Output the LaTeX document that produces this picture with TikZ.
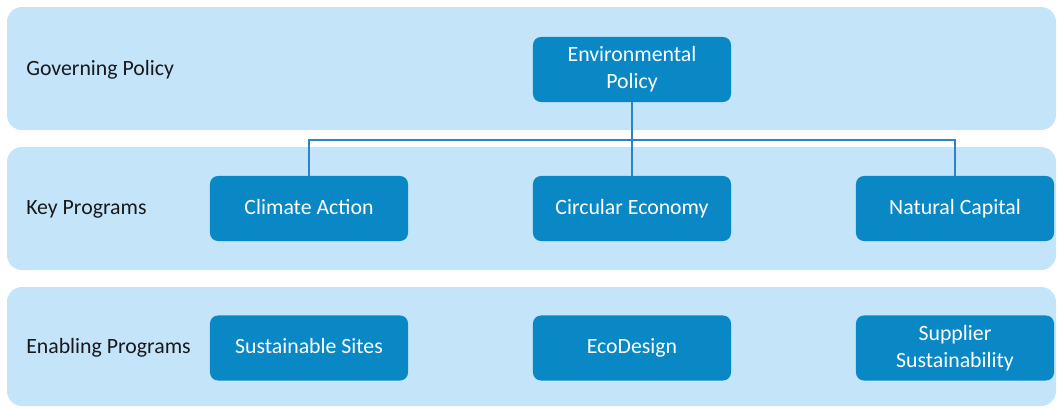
\documentclass[tikz,border=0pt]{standalone}
\usepackage{fontspec}
\setmainfont{Carlito}
\usepackage{tikz}
\usetikzlibrary{positioning}

\definecolor{bandblue}{HTML}{C4E4FA}
\definecolor{boxblue}{HTML}{0A88C6}
\definecolor{linkblue}{HTML}{2A84CC}

\tikzset{
  band/.style={fill=bandblue, rounded corners=0.375cm},
  tier/.style={anchor=west, inner sep=0pt, font=\fontsize{15.5}{18}\selectfont, text=black!90},
  prog/.style={fill=boxblue, rounded corners=0.2cm, text=white,
    minimum width=4.95cm, minimum height=1.625cm, align=center,
    text depth=0.25em, font=\fontsize{15.5}{19}\selectfont},
  link/.style={draw=linkblue, line width=1.1pt}
}

\begin{document}
\begin{tikzpicture}[x=0.025cm, y=-0.025cm]
  \useasboundingbox (0,0) rectangle (1058,408);

  % bands
  \fill[band] (7,7) rectangle (1056,130);
  \fill[band] (7,147) rectangle (1056,270);
  \fill[band] (7,287) rectangle (1056,406);

  \node[tier] (gov) at (26,70) {Governing Policy};
  \node[tier] (key) at (26,209) {Key Programs};
  \node[tier] (enab) at (26,348) {Enabling Programs};

  % programs
  \node[prog] (env) at (632,69.5) {Environmental\\Policy};

  \node[prog] (climate) at (309,208.5) {Climate Action};
  \node[prog] (circular) at (632,208.5) {Circular Economy};
  \node[prog] (natural) at (955,208.5) {Natural Capital};

  \node[prog] (sites) at (309,348) {Sustainable Sites};
  \node[prog] (ecodesign) at (632,348) {EcoDesign};
  \node[prog] (supplier) at (955,348) {Supplier\\Sustainability};

  % connectors
  \coordinate (bus) at (632,140);
  \draw[link] (env.south) -- (circular.north);
  \draw[link] (climate.north) |- (bus) -| (natural.north);
\end{tikzpicture}
\end{document}
